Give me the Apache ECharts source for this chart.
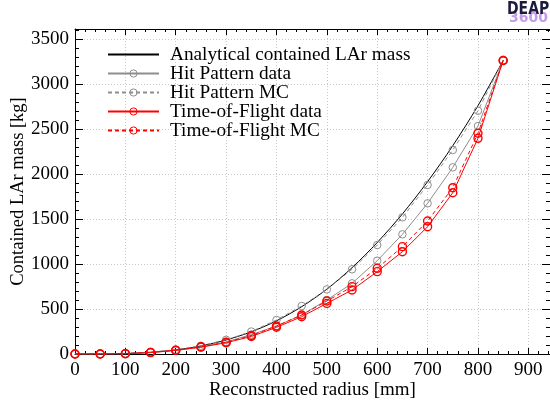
<!DOCTYPE html>
<html>
<head>
<meta charset="utf-8">
<script src="https://cdn.jsdelivr.net/npm/echarts@6/dist/echarts.min.js"></script>
<style>
html,body{margin:0;padding:0;background:#fff;}
#chart{width:550px;height:406px;}
</style>
</head>
<body>
<div id="chart"></div>
<script>
// ---- data ----
const radius = [0, 50, 100, 150, 200, 250, 300, 350, 400, 450, 500, 550, 600, 650, 700, 750, 800, 850];
const analyticalMass = [0, 0.7, 5.7, 19.4, 46, 90, 156, 247, 369, 526, 721, 960, 1240, 1558, 1917, 2317, 2762, 3265];
const hitPatternData = [0, 0, 4, 16, 40, 78, 135, 215, 311, 434, 600, 786, 1038, 1331, 1676, 2076, 2536, 3265];
const hitPatternMC = [0, 0, 5, 20, 48, 92, 158, 250, 378, 534, 719, 942, 1212, 1520, 1880, 2269, 2706, 3265];
const tofData = [0, 0, 3, 16, 40, 76, 125, 195, 297, 415, 563, 712, 916, 1138, 1416, 1794, 2399, 3265];
const tofMC = [0, 0, 4, 18, 42, 80, 130, 205, 311, 434, 589, 749, 953, 1194, 1479, 1850, 2455, 3265];
const seriesNames = ['Analytical contained LAr mass', 'Hit Pattern data', 'Hit Pattern MC', 'Time-of-Flight data', 'Time-of-Flight MC'];
const xTitle = 'Reconstructed radius [mm]';
const yTitle = 'Contained LAr mass [kg]';

const X_MAX = 943, Y_MAX = 3615;
const serif = '"Liberation Serif", "DejaVu Serif", serif';
const pairs = ys => radius.map((r, i) => [r, ys[i]]);
const plain = v => String(Math.round(v));

function xAxisDef(pos, major, withLabels) {
  return {
    type: 'value', position: pos, min: 0, max: X_MAX,
    interval: major ? 100 : 20,
    axisLine: { show: major, onZero: false, lineStyle: { color: '#000', width: 1 } },
    axisTick: { show: true, inside: true, length: major ? 6 : 3, lineStyle: { color: '#000', width: 1 } },
    axisLabel: { show: withLabels, margin: 7, showMaxLabel: false, formatter: plain, color: '#000', fontFamily: serif, fontSize: 19 },
    splitLine: { show: major && pos === 'bottom', lineStyle: { color: '#c8c8c8', type: [1, 2], width: 1 } },
    name: withLabels ? xTitle : '',
    nameLocation: 'middle', nameGap: 27, nameMoveOverlap: false,
    nameTextStyle: { color: '#000', fontFamily: serif, fontSize: 19 }
  };
}
function yAxisDef(pos, major, withLabels) {
  return {
    type: 'value', position: pos, min: 0, max: Y_MAX,
    interval: major ? 500 : 100,
    axisLine: { show: major, onZero: false, lineStyle: { color: '#000', width: 1 } },
    axisTick: { show: true, inside: true, length: major ? 8 : 4, lineStyle: { color: '#000', width: 1 } },
    axisLabel: { show: withLabels, margin: 6, showMaxLabel: false, formatter: plain, color: '#000', fontFamily: serif, fontSize: 19 },
    splitLine: { show: major && pos === 'left', lineStyle: { color: '#c8c8c8', type: [1, 2], width: 1 } },
    name: withLabels ? yTitle : '',
    nameLocation: 'middle', nameGap: 47, nameRotate: 90, nameMoveOverlap: false,
    nameTextStyle: { color: '#000', fontFamily: serif, fontSize: 18.5 }
  };
}

const chart = echarts.init(document.getElementById('chart'), null, { renderer: 'canvas' });
const gray = '#8e8e8e', red = '#ff0000', clear = 'rgba(0,0,0,0)';
chart.setOption({
  animation: false,
  backgroundColor: '#fff',
  grid: { left: 75, right: 0, top: 29, bottom: 52, containLabel: false, outerBoundsMode: 'none' },
  xAxis: [xAxisDef('bottom', true, true), xAxisDef('bottom', false, false), xAxisDef('top', true, false), xAxisDef('top', false, false)],
  yAxis: [yAxisDef('left', true, true), yAxisDef('left', false, false), yAxisDef('right', true, false), yAxisDef('right', false, false)],
  legend: {
    orient: 'vertical', left: 107, top: 45, padding: 0,
    itemWidth: 51, itemHeight: 9, itemGap: 0,
    itemStyle: { borderWidth: 1 },
    data: [
      { name: seriesNames[0], itemStyle: { opacity: 0 } },
      seriesNames[1], seriesNames[2], seriesNames[3], seriesNames[4]
    ],
    textStyle: { fontFamily: serif, fontSize: 19.3, color: '#000', lineHeight: 18.75, padding: [0, 0, 0, 6] }
  },
  series: [
    { name: seriesNames[0], type: 'line', data: pairs(analyticalMass), smooth: 0.3, symbol: 'none',
      lineStyle: { color: '#000', width: 1 }, itemStyle: { color: '#000' }, z: 2 },
    { name: seriesNames[1], type: 'line', data: pairs(hitPatternData), symbol: 'circle', symbolSize: 7.5,
      lineStyle: { color: gray, width: 1 }, itemStyle: { color: clear, borderColor: gray, borderWidth: 1 }, z: 3 },
    { name: seriesNames[2], type: 'line', data: pairs(hitPatternMC), symbol: 'circle', symbolSize: 7.5,
      lineStyle: { color: gray, width: 1, type: [4, 3] }, itemStyle: { color: clear, borderColor: gray, borderWidth: 1 }, z: 3 },
    { name: seriesNames[3], type: 'line', data: pairs(tofData), symbol: 'circle', symbolSize: 8,
      lineStyle: { color: red, width: 1 }, itemStyle: { color: clear, borderColor: red, borderWidth: 1.4 }, z: 4 },
    { name: seriesNames[4], type: 'line', data: pairs(tofMC), symbol: 'circle', symbolSize: 8,
      lineStyle: { color: red, width: 1, type: [4, 3] }, itemStyle: { color: clear, borderColor: red, borderWidth: 1.4 }, z: 4 }
  ],
  graphic: [
    { type: 'text', left: 507, top: 1, scaleY: 1.2, style: { text: 'DEAP', fill: '#1c1b3c', font: 'bold 14px "DejaVu Sans", sans-serif' }, z: 10 },
    { type: 'text', left: 509, top: 11, style: { text: '3600', fill: '#c39be8', font: 'bold 14px "DejaVu Sans", sans-serif' }, z: 9 }
  ]
});
</script>
</body>
</html>
